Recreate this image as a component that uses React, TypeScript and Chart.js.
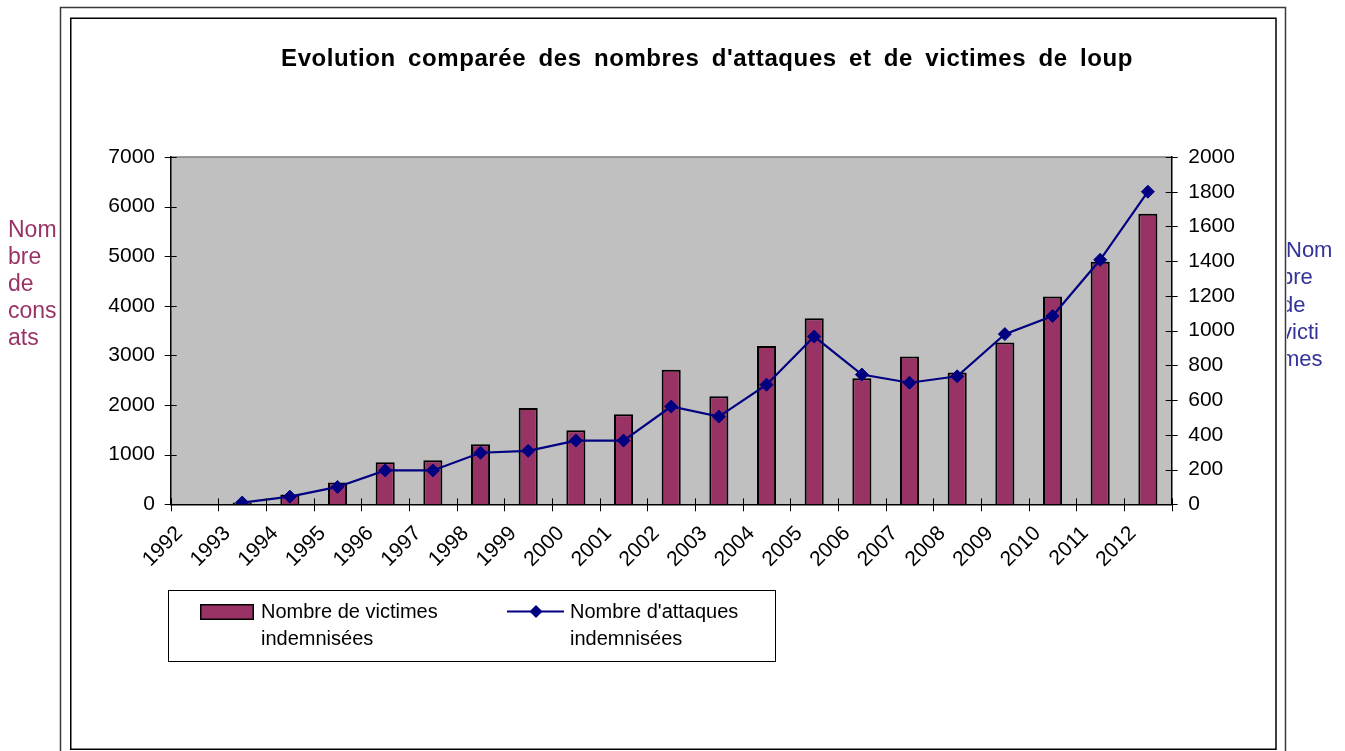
import React, { useEffect, useRef } from "react";
import { Chart, registerables } from "chart.js";

Chart.register(...registerables);

const years = ["1992", "1993", "1994", "1995", "1996", "1997", "1998", "1999", "2000", "2001", "2002", "2003", "2004", "2005", "2006", "2007", "2008", "2009", "2010", "2011", "2012"];
const victims = [null, 35, 200, 440, 850, 890, 1210, 1940, 1490, 1815, 2710, 2180, 3190, 3750, 2540, 2980, 2655, 3260, 4190, 4890, 5855];
const attacks = [null, 10, 44, 100, 195, 195, 297, 308, 367, 367, 563, 505, 689, 966, 747, 700, 737, 980, 1084, 1408, 1800];
const leftTicks = { min: 0, max: 7000, step: 1000 };
const rightTicks = { min: 0, max: 2000, step: 200 };
const titleText = "Evolution comparée des nombres d'attaques et de victimes de loup";
const victimsLabel = ["Nombre de victimes", "indemnisées"];
const attacksLabel = ["Nombre d'attaques", "indemnisées"];
const leftAxisTitle = ["Nom", "bre", "de", "cons", "ats"];
const rightAxisTitle = ["Nom", "bre", "de", "victi", "mes"];

const FONT = '"Liberation Sans", Arial, sans-serif';
const BAR = "#993366";
const NAVY = "#000080";

function diamond(ctx: CanvasRenderingContext2D, x: number, y: number, r: number) {
  ctx.beginPath();
  ctx.moveTo(x, y - r);
  ctx.lineTo(x + r, y);
  ctx.lineTo(x, y + r);
  ctx.lineTo(x - r, y);
  ctx.closePath();
  ctx.fill();
}

const decor = {
  id: "decor",
  beforeDraw(chart: any) {
    const ctx: CanvasRenderingContext2D = chart.ctx;
    const a = chart.chartArea;
    ctx.save();
    ctx.fillStyle = "#fff";
    ctx.fillRect(0, 0, chart.width, chart.height);
    ctx.strokeStyle = "#3a3a3a";
    ctx.lineWidth = 1.5;
    ctx.strokeRect(60.5, 7.5, 1225, 770);
    ctx.strokeStyle = "#000";
    ctx.lineWidth = 1.5;
    ctx.strokeRect(70.75, 18.25, 1205.25, 731);
    ctx.fillStyle = "#C0C0C0";
    ctx.fillRect(a.left, a.top, a.right - a.left, a.bottom - a.top);
    ctx.strokeStyle = "#808080";
    ctx.lineWidth = 1.5;
    ctx.beginPath();
    ctx.moveTo(a.left, a.top);
    ctx.lineTo(a.right, a.top);
    ctx.stroke();
    ctx.restore();
  },
  afterDraw(chart: any) {
    const ctx: CanvasRenderingContext2D = chart.ctx;
    const a = chart.chartArea;
    const xs = chart.scales.x;
    const yl = chart.scales.y;
    const yr = chart.scales.y2;
    ctx.save();
    // tick marks crossing the axes
    ctx.strokeStyle = "#000";
    ctx.lineWidth = 1;
    ctx.beginPath();
    for (let i = 0; i <= years.length; i++) {
      const x = Math.round(xs.getPixelForValue(i - 0.5)) + 0.5;
      ctx.moveTo(x, a.bottom - 6);
      ctx.lineTo(x, a.bottom + 7);
    }
    yl.ticks.forEach((t: any) => {
      const y = Math.round(yl.getPixelForValue(t.value)) + 0.5;
      ctx.moveTo(a.left - 6, y);
      ctx.lineTo(a.left + 6, y);
    });
    yr.ticks.forEach((t: any) => {
      const y = Math.round(yr.getPixelForValue(t.value)) + 0.5;
      ctx.moveTo(a.right - 6, y);
      ctx.lineTo(a.right + 6, y);
    });
    ctx.stroke();

    // title
    ctx.fillStyle = "#000";
    ctx.font = `bold 24px ${FONT}`;
    ctx.textAlign = "center";
    ctx.textBaseline = "alphabetic";
    (ctx as any).letterSpacing = "0.6px";
    (ctx as any).wordSpacing = "5px";
    ctx.fillText(titleText, 707, 66);
    (ctx as any).letterSpacing = "0px";
    (ctx as any).wordSpacing = "0px";

    // left axis title
    ctx.textAlign = "left";
    ctx.font = `23px ${FONT}`;
    ctx.fillStyle = BAR;
    leftAxisTitle.forEach((s, i) => ctx.fillText(s, 8, 237 + i * 27));

    // right axis title (partly hidden by the frame)
    ctx.save();
    ctx.beginPath();
    ctx.rect(1287, 0, 100, 751);
    ctx.clip();
    ctx.font = `22px ${FONT}`;
    ctx.fillStyle = "#333399";
    rightAxisTitle.forEach((s, i) => ctx.fillText(s, i === 0 ? 1286 : 1281, 257 + i * 27.3));
    ctx.restore();

    // legend
    ctx.strokeStyle = "#000";
    ctx.lineWidth = 1;
    ctx.strokeRect(168.5, 590.5, 607, 71);
    ctx.fillStyle = BAR;
    ctx.fillRect(200, 604, 54, 16);
    ctx.lineWidth = 1.5;
    ctx.strokeRect(200.75, 604.75, 52.5, 14.5);
    ctx.font = `20px ${FONT}`;
    ctx.fillStyle = "#000";
    ctx.fillText(victimsLabel[0], 261, 618);
    ctx.fillText(victimsLabel[1], 261, 645);
    ctx.strokeStyle = NAVY;
    ctx.lineWidth = 2;
    ctx.beginPath();
    ctx.moveTo(507, 611.5);
    ctx.lineTo(564, 611.5);
    ctx.stroke();
    ctx.fillStyle = NAVY;
    diamond(ctx, 536, 611.5, 6.5);
    ctx.fillStyle = "#000";
    ctx.fillText(attacksLabel[0], 570, 618);
    ctx.fillText(attacksLabel[1], 570, 645);
    ctx.restore();
  },
};

const plain = (v: any) => String(v);

export default function App() {
  const ref = useRef<HTMLCanvasElement>(null);
  useEffect(() => {
    const chart = new Chart(ref.current as HTMLCanvasElement, {
      type: "bar",
      data: {
        labels: years,
        datasets: [
          {
            type: "line",
            label: attacksLabel.join(" "),
            data: attacks as any,
            yAxisID: "y2",
            borderColor: NAVY,
            backgroundColor: NAVY,
            borderWidth: 2.2,
            pointStyle: "rectRot",
            pointRadius: 6.5,
            pointBorderWidth: 1,
            pointBackgroundColor: NAVY,
            pointBorderColor: NAVY,
            tension: 0,
            order: 0,
          } as any,
          {
            type: "bar",
            label: victimsLabel.join(" "),
            data: victims as any,
            yAxisID: "y",
            backgroundColor: BAR,
            borderColor: "#000",
            borderWidth: 2,
            barPercentage: 0.4,
            categoryPercentage: 1,
            order: 1,
          } as any,
        ],
      },
      options: {
        responsive: false,
        animation: false,
        layout: { padding: { left: 70, right: 70, top: 157, bottom: 146.7 } },
        plugins: { legend: { display: false }, title: { display: false }, tooltip: { enabled: false } },
        scales: {
          x: {
            offset: true,
            grid: { display: false, drawTicks: false, tickLength: 0, offset: true },
            border: { display: true, color: "#000", width: 1.5 },
            ticks: {
              autoSkip: false,
              maxRotation: 45,
              minRotation: 45,
              labelOffset: -15,
              padding: 17,
              color: "#000",
              font: { family: FONT, size: 21 },
            },
            afterFit: (s: any) => {
              s.height = 100;
            },
          },
          y: {
            position: "left",
            min: leftTicks.min,
            max: leftTicks.max,
            grid: { display: false, drawTicks: false, tickLength: 0 },
            border: { display: true, color: "#000", width: 1.5 },
            ticks: { stepSize: leftTicks.step, padding: 15.7, color: "#000", font: { family: FONT, size: 21 }, callback: plain },
            afterFit: (s: any) => {
              s.width = 100.7;
            },
          },
          y2: {
            position: "right",
            min: rightTicks.min,
            max: rightTicks.max,
            grid: { display: false, drawTicks: false, tickLength: 0 },
            border: { display: true, color: "#000", width: 1.5 },
            ticks: { stepSize: rightTicks.step, padding: 16.5, color: "#000", font: { family: FONT, size: 21 }, callback: plain },
            afterFit: (s: any) => {
              s.width = 103.3;
            },
          },
        },
      } as any,
      plugins: [decor],
    });
    return () => chart.destroy();
  }, []);
  return (
    <div style={{ position: "fixed", left: 0, top: 0, width: 1345, height: 751, background: "#fff" }}>
      <canvas ref={ref} width={1345} height={751} style={{ display: "block" }} />
    </div>
  );
}
